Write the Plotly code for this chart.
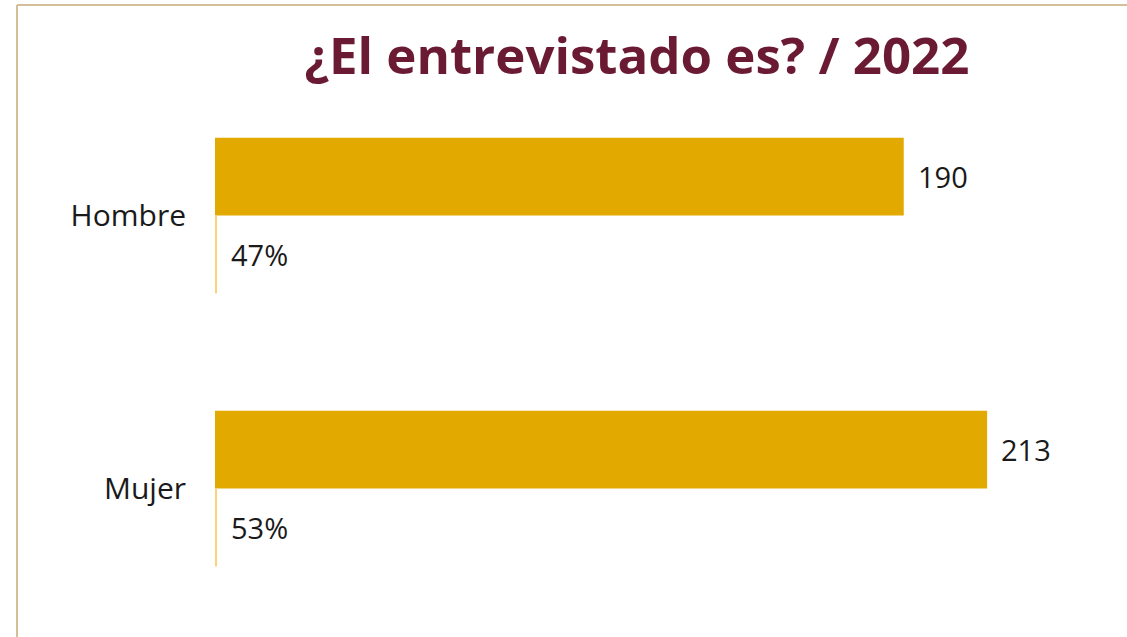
import plotly.graph_objects as go

categories = ["Hombre", "Mujer"]
counts = [190, 213]
shares = [0.47, 0.53]
share_labels = ["47%", "53%"]
count_labels = ["190", "213"]

title_text = "¿El entrevistado es? / 2022"

GOLD = "#E2AA00"
LIGHT_GOLD = "#FFD07A"
MAROON = "#6B1A33"
BORDER = "#D4BE98"
FONT = "Open Sans"
TXT = "#1a1a1a"

fig = go.Figure()
fig.add_trace(go.Bar(
    y=categories, x=counts, orientation="h", marker=dict(color=GOLD, line=dict(width=0)),
    name="Total", hoverinfo="x+y",
))
fig.add_trace(go.Bar(
    y=categories, x=shares, orientation="h", marker=dict(color=LIGHT_GOLD, line=dict(width=0)),
    name="Porcentaje", hoverinfo="x+y",
))

annotations = []
for c, v, t in zip(categories, counts, count_labels):
    annotations.append(dict(x=v, y=c, xref="x", yref="y", text=t, showarrow=False,
                            xanchor="left", yanchor="middle", xshift=12, yshift=39,
                            font=dict(family=FONT, size=29, color=TXT)))
for c, v, t in zip(categories, shares, share_labels):
    annotations.append(dict(x=v, y=c, xref="x", yref="y", text=t, showarrow=False,
                            xanchor="left", yanchor="middle", xshift=12, yshift=-39,
                            font=dict(family=FONT, size=29, color=TXT)))
fig.update_layout(annotations=annotations)

W, H = 1127, 637
ml, mr, mt, mb = 215, 42, 79, 12
pw, ph = W - ml - mr, H - mt - mb

def px2paper_x(px):
    return (px - ml) / pw

def px2paper_y(py):
    return 1 - (py - mt) / ph

fig.add_shape(type="line", xref="paper", yref="paper",
              x0=px2paper_x(17), x1=px2paper_x(1127), y0=px2paper_y(5), y1=px2paper_y(5),
              line=dict(color=BORDER, width=2))
fig.add_shape(type="line", xref="paper", yref="paper",
              x0=px2paper_x(17), x1=px2paper_x(17), y0=px2paper_y(5), y1=px2paper_y(637),
              line=dict(color=BORDER, width=2))

fig.update_layout(
    width=W, height=H,
    margin=dict(l=ml, r=mr, t=mt, b=mb, pad=0),
    paper_bgcolor="white", plot_bgcolor="white",
    barmode="group", bargap=0.43, bargroupgap=0,
    showlegend=False,
    title=dict(text=f"<b>{title_text}</b>", x=637 / W, xanchor="center", xref="container",
               y=1 - 56 / H, yanchor="middle", yref="container",
               font=dict(family=FONT, size=51, color=MAROON)),
    xaxis=dict(range=[0, 240], visible=False, showgrid=False, zeroline=False),
    yaxis=dict(autorange="reversed", showgrid=False, zeroline=False, showline=False,
               ticks="", ticklabelstandoff=28,
               tickfont=dict(family=FONT, size=30, color=TXT)),
)

fig.write_html("out.html", config={"displayModeBar": False},
               post_script="document.body.style.margin='0';document.body.style.overflow='hidden';")
